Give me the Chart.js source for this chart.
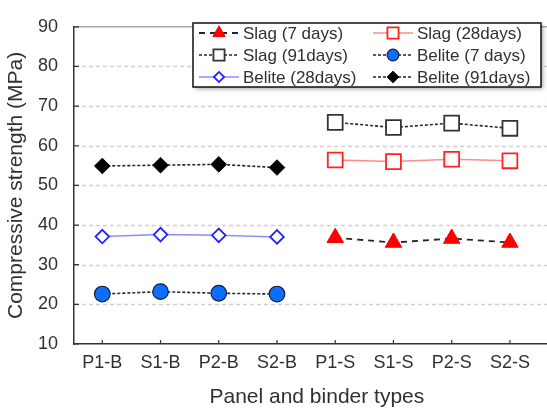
<!DOCTYPE html>
<html>
<head>
<meta charset="utf-8">
<title>Compressive strength</title>
<script src="https://cdn.jsdelivr.net/npm/chart.js@4.4.0/dist/chart.umd.min.js"></script>
<style>
    html, body { margin: 0; padding: 0; background: #fff; overflow: hidden; }
    #wrap { width: 572px; height: 411px; }
</style>
</head>
<body>
<div id="wrap"><canvas id="strengthChart" width="572" height="411"></canvas></div>
<script>
// panel / binder combinations along the x axis
const panels = ['P1-B', 'S1-B', 'P2-B', 'S2-B', 'P1-S', 'S1-S', 'P2-S', 'S2-S'];
const yTicks = [10, 20, 30, 40, 50, 60, 70, 80, 90];

// compressive strength (MPa), null where the binder was not used
const slag7    = [null, null, null, null, 36.8, 35.6, 36.6, 35.6];
const slag28   = [null, null, null, null, 56.4, 56.0, 56.6, 56.2];
const slag91   = [null, null, null, null, 65.9, 64.6, 65.7, 64.4];
const belite7  = [22.6, 23.2, 22.8, 22.6, null, null, null, null];
const belite28 = [37.1, 37.6, 37.4, 37.0, null, null, null, null];
const belite91 = [54.9, 55.1, 55.3, 54.5, null, null, null, null];

const FONT = "Arial, 'Liberation Sans', sans-serif";
const TEXT = '#303030';

function toPoints(values) {
    const pts = [];
    values.forEach((v, i) => { if (v !== null) pts.push({x: i, y: v}); });
    return pts;
}

// dashed grid, grey frame line on top and short inward tick marks
const frame = {
    id: 'frame',
    beforeDatasetsDraw(chart) {
        const {ctx, chartArea: a, scales: {x, y}} = chart;
        ctx.save();
        ctx.strokeStyle = '#d6cdd2';
        ctx.lineWidth = 1.3;
        ctx.setLineDash([4, 3]);
        ctx.beginPath();
        yTicks.slice(1, -1).forEach(v => {
            const py = Math.round(y.getPixelForValue(v)) + 0.5;
            ctx.moveTo(a.left + 1, py);
            ctx.lineTo(a.right, py);
        });
        ctx.stroke();
        ctx.setLineDash([]);

        ctx.strokeStyle = '#a8a8a8';
        ctx.lineWidth = 1.5;
        ctx.beginPath();
        ctx.moveTo(a.left, a.top);
        ctx.lineTo(a.right, a.top);
        ctx.stroke();

        ctx.strokeStyle = '#333';
        ctx.lineWidth = 1.2;
        ctx.beginPath();
        yTicks.forEach(v => {
            const py = y.getPixelForValue(v);
            ctx.moveTo(a.left, py);
            ctx.lineTo(a.left + 5, py);
        });
        panels.forEach((_, i) => {
            const px = x.getPixelForValue(i);
            ctx.moveTo(px, a.bottom);
            ctx.lineTo(px, a.bottom - 4);
        });
        ctx.stroke();
        ctx.restore();
    }
};

// boxed two-column legend with line + marker samples
const boxLegend = {
    id: 'boxLegend',
    afterDraw(chart) {
        const ctx = chart.ctx;
        const box = {left: 193, top: 23, width: 348, height: 64};
        ctx.save();
        ctx.shadowColor = 'rgba(0,0,0,0.35)';
        ctx.shadowBlur = 4;
        ctx.shadowOffsetX = 2;
        ctx.shadowOffsetY = 2;
        ctx.fillStyle = '#fff';
        ctx.fillRect(box.left, box.top, box.width, box.height);
        ctx.shadowColor = 'transparent';
        ctx.strokeStyle = '#111';
        ctx.lineWidth = 1.5;
        ctx.strokeRect(box.left, box.top, box.width, box.height);

        chart.data.datasets.forEach((ds, i) => {
            const col = i % 2;
            const row = Math.floor(i / 2);
            const x0 = col ? 373 : 199;
            const cy = 33 + row * 22;

            ctx.setLineDash(ds.borderDash || []);
            ctx.strokeStyle = ds.borderColor;
            ctx.lineWidth = ds.borderWidth;
            ctx.beginPath();
            ctx.moveTo(x0, cy);
            ctx.lineTo(x0 + 40, cy);
            ctx.stroke();
            ctx.setLineDash([]);

            ctx.fillStyle = ds.pointBackgroundColor;
            ctx.strokeStyle = ds.pointBorderColor;
            ctx.lineWidth = ds.pointBorderWidth;
            Chart.helpers.drawPoint(ctx, {
                pointStyle: ds.pointStyle,
                radius: ds.pointRadius * 0.75,
                rotation: 0,
                borderWidth: ds.pointBorderWidth
            }, x0 + 20, cy);

            ctx.fillStyle = TEXT;
            ctx.font = '17px ' + FONT;
            ctx.textAlign = 'left';
            ctx.textBaseline = 'middle';
            ctx.fillText(ds.label, x0 + 44, cy + 1);
        });
        ctx.restore();
    }
};

const chartItem = document.getElementById('strengthChart');
const strengthChart = new Chart(chartItem, {
    type: 'line',
    data: {
        datasets: [{
            label: 'Slag (7 days)',
            data: toPoints(slag7),
            borderColor: '#262626',
            borderWidth: 1.8,
            borderDash: [6, 5],
            pointStyle: 'triangle',
            pointRadius: 9.5,
            pointBackgroundColor: '#ff0000',
            pointBorderColor: '#ff0000',
            pointBorderWidth: 1
        }, {
            label: 'Slag (28days)',
            data: toPoints(slag28),
            borderColor: '#ff8c8c',
            borderWidth: 1.5,
            borderDash: [],
            pointStyle: 'rect',
            pointRadius: 10.5,
            pointBackgroundColor: '#ffffff',
            pointBorderColor: '#ff2222',
            pointBorderWidth: 1.8
        }, {
            label: 'Slag (91days)',
            data: toPoints(slag91),
            borderColor: '#262626',
            borderWidth: 1.6,
            borderDash: [3, 2],
            pointStyle: 'rect',
            pointRadius: 10.5,
            pointBackgroundColor: '#ffffff',
            pointBorderColor: '#333333',
            pointBorderWidth: 1.8
        }, {
            label: 'Belite (7 days)',
            data: toPoints(belite7),
            borderColor: '#262626',
            borderWidth: 1.6,
            borderDash: [3, 2],
            pointStyle: 'circle',
            pointRadius: 7.8,
            pointBackgroundColor: '#0a6eff',
            pointBorderColor: '#1a1a3a',
            pointBorderWidth: 1.2
        }, {
            label: 'Belite (28days)',
            data: toPoints(belite28),
            borderColor: '#8c8cff',
            borderWidth: 1.5,
            borderDash: [],
            pointStyle: 'rectRot',
            pointRadius: 6.8,
            pointBackgroundColor: '#ffffff',
            pointBorderColor: '#2222ff',
            pointBorderWidth: 1.8
        }, {
            label: 'Belite (91days)',
            data: toPoints(belite91),
            borderColor: '#262626',
            borderWidth: 1.6,
            borderDash: [3, 2],
            pointStyle: 'rectRot',
            pointRadius: 7.8,
            pointBackgroundColor: '#000000',
            pointBorderColor: '#000000',
            pointBorderWidth: 1
        }]
    },
    options: {
        responsive: false,
        animation: false,
        layout: {
            padding: {top: 16, right: 0, left: 0, bottom: 0}
        },
        plugins: {
            legend: {display: false},
            tooltip: {enabled: false}
        },
        elements: {
            line: {tension: 0, fill: false},
            point: {hoverRadius: 0}
        },
        scales: {
            x: {
                type: 'linear',
                min: -0.486,
                max: 7.855,
                afterFit: s => { s.height = 67; },
                afterBuildTicks: s => { s.ticks = panels.map((_, i) => ({value: i})); },
                grid: {display: false, drawTicks: false},
                border: {display: true, color: '#333', width: 1.5},
                ticks: {
                    autoSkip: false,
                    maxRotation: 0,
                    padding: 8,
                    color: TEXT,
                    font: {family: FONT, size: 18},
                    callback: v => panels[v]
                },
                title: {
                    display: true,
                    text: 'Panel and binder types',
                    color: TEXT,
                    font: {family: FONT, size: 21},
                    padding: {top: 0, bottom: 1}
                }
            },
            y: {
                min: 10,
                max: 90,
                afterFit: s => { s.width = 74; },
                afterBuildTicks: s => { s.ticks = yTicks.map(v => ({value: v})); },
                grid: {display: false, drawTicks: false},
                border: {display: true, color: '#333', width: 1.5},
                ticks: {
                    padding: 16,
                    color: TEXT,
                    font: {family: FONT, size: 18}
                },
                title: {
                    display: true,
                    text: 'Compressive strength (MPa)',
                    color: TEXT,
                    font: {family: FONT, size: 21},
                    padding: {top: 4, bottom: 0}
                }
            }
        }
    },
    plugins: [frame, boxLegend]
});
</script>
</body>
</html>
